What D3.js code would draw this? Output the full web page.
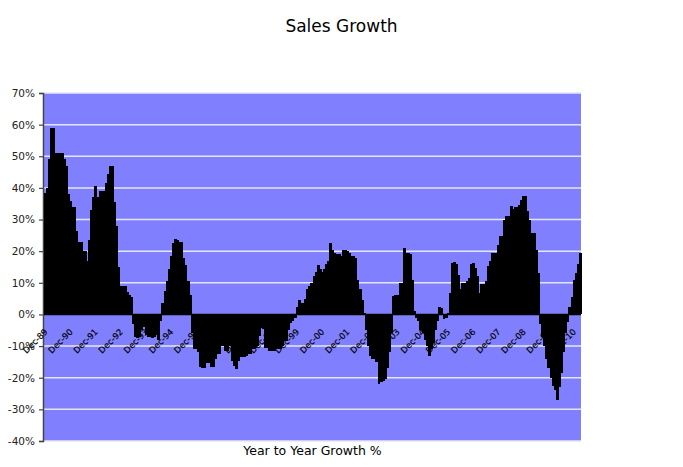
<!DOCTYPE html>
<html>
<head>
<meta charset="utf-8">
<script src="https://cdn.jsdelivr.net/npm/d3@7"></script>
<style>
  body { margin: 0; background: #fff; }
  text { font-family: "DejaVu Sans", sans-serif; }
</style>
</head>
<body>
<div class="chart"></div>
<script>
// monthly categories, Dec-89 .. Mar-11
var startMonth = new Date(Date.UTC(1989, 11, 1));
var endMonth = new Date(Date.UTC(2011, 3, 1));
var months = d3.utcMonth.range(startMonth, endMonth);

// year-to-year growth %, one row per 12 months starting Dec-89
var growth = [
    38.5, 40, 49, 59, 59, 51, 51, 51, 51, 49, 47, 38,
    36, 34, 34, 26.5, 23, 23, 20, 20, 17, 23.5, 33, 37,
    40.5, 37, 39, 39, 39, 41.5, 44.5, 47, 47, 35.5, 28, 15,
    9, 9, 9, 7, 6, 5.5, -3, -7, -7.5, -7, -5, -4,
    -6.5, -7, -7, -7.5, -7, -6.5, -8, -2, 3.5, 7.5, 10.5, 14.5,
    18.5, 22.5, 24, 23.5, 23, 23, 18, 15.5, 10.5, 6, -6, -11,
    -11, -12, -16.7, -17, -17, -15.2, -15.2, -16.7, -16.7, -14, -12.6, -12.6,
    -10, -10, -11.5, -11.5, -10, -14.6, -16.2, -17.2, -14.6, -13.6, -13.6, -13.6,
    -13, -12.6, -12.6, -11, -10.5, -10, -6.9, -4.3, -4.5, -10.5, -10.5, -11.5,
    -11.5, -11.5, -10.8, -10.8, -10.8, -10, -8.5, -8.5, -4.8, -2.8, -2, -1,
    2.5, 4.5, 3.5, 3.5, 5, 8, 9, 10, 12, 13.5, 15.5, 14.5,
    13.5, 14.5, 16, 17, 22.5, 20.5, 19.5, 19, 19, 18.5, 20.5, 20.5,
    20, 19.5, 18.5, 18.5, 18, 11, 8, 4.5, 0.5, -5, -10, -13,
    -14, -14, -15, -22, -21.5, -21, -20.5, -17, -12, -6, 5.8, 6,
    6, 10, 10, 21, 19.5, 19.5, 19, 11, 1, -1, -2, -5,
    -6, -8, -10, -13, -11, -9, -5, -2, 2.5, 2, -1.5, -1,
    0.5, 6.8, 16.3, 16.5, 16, 12.6, 7.9, 10, 10, 10.5, 11.6, 15.8,
    16.3, 14.7, 12, 6.8, 9.5, 9.5, 10.5, 15.3, 16.8, 19.5, 19.3, 19.3,
    22.1, 24.7, 24.7, 30, 31, 31, 34.4, 33.2, 34, 34, 34.7, 36.1,
    37.4, 37.4, 32.6, 30, 25.8, 25.8, 20.5, 13.2, -3, -7, -10, -14,
    -17, -20, -22.5, -24, -27, -23, -18.5, -12, -6, -2.5, 2.5, 5.5,
    11, 13, 15.8, 19.5
];

var tickLabels = ["Dec-89", "Dec-90", "Dec-91", "Dec-92", "Dec-93", "Dec-94",
    "Dec-95", "Dec-96", "Dec-97", "Dec-98", "Dec-99", "Dec-00", "Dec-01",
    "Dec-02", "Dec-03", "Dec-04", "Dec-05", "Dec-06", "Dec-07", "Dec-08",
    "Dec-09", "Dec-10"];

var yTicks = [-40, -30, -20, -10, 0, 10, 20, 30, 40, 50, 60, 70];

var width = 683, height = 467;
var plotLeft = 44, plotRight = 581, plotTop = 93, plotBottom = 441;

var fmtMonth = d3.utcFormat("%b-%y");

var svg = d3.select(".chart")
    .append("svg")
    .attr("width", width)
    .attr("height", height);

var x = d3.scaleBand()
    .domain(d3.range(months.length))
    .range([plotLeft, plotRight])
    .padding(0);

var y = d3.scaleLinear()
    .domain([-40, 70])
    .range([plotBottom, plotTop]);

// plot area
svg.append("rect")
    .attr("x", plotLeft)
    .attr("y", plotTop)
    .attr("width", plotRight - plotLeft)
    .attr("height", plotBottom - plotTop)
    .style("fill", "#8080ff");

// gridlines
svg.selectAll(".grid")
    .data(yTicks.filter(function(d) { return d != 0; }))
    .enter().append("line")
    .attr("class", "grid")
    .attr("x1", plotLeft)
    .attr("x2", plotRight)
    .attr("y1", function(d) { return y(d); })
    .attr("y2", function(d) { return y(d); })
    .style("stroke", "#e6e6f2")
    .style("stroke-width", 1.5);

// y axis
var yAxis = svg.append("g")
    .attr("transform", "translate(" + (plotLeft - 1) + ",0)")
    .call(d3.axisLeft(y).tickValues(yTicks).tickSize(4).tickPadding(4)
        .tickFormat(function(d) { return d + "%"; }));
yAxis.select(".domain").style("stroke", "#444").style("stroke-width", 1.5);
yAxis.selectAll(".tick line").style("stroke", "#444").style("stroke-width", 1.2);
yAxis.selectAll(".tick text")
    .style("font-family", "DejaVu Sans, sans-serif")
    .style("font-size", "10.5px")
    .style("fill", "#222");

// category labels (drawn under the bars)
var labelIdx = months.map(function(m, i) { return i; })
    .filter(function(i) { return tickLabels.indexOf(fmtMonth(months[i])) >= 0; });

svg.selectAll(".cat")
    .data(labelIdx)
    .enter().append("text")
    .attr("class", "cat")
    .attr("transform", function(i) {
        return "translate(" + (x(i) + x.bandwidth() / 2 + 3) + "," + (y(0) + 18) + ") rotate(-45)";
    })
    .attr("text-anchor", "end")
    .style("font-size", "8.5px")
    .style("fill", "#000")
    .style("stroke", "#000")
    .style("stroke-width", 0.2)
    .text(function(i) { return fmtMonth(months[i]); });

// bars
svg.selectAll(".bar")
    .data(growth)
    .enter().append("rect")
    .attr("class", "bar")
    .attr("x", function(d, i) { return x(i); })
    .attr("width", x.bandwidth() + 0.8)
    .attr("y", function(d) { return d >= 0 ? y(d) : y(0); })
    .attr("height", function(d) { return Math.abs(y(d) - y(0)); })
    .attr("shape-rendering", "crispEdges")
    .style("fill", "#000");

// zero axis
svg.append("line")
    .attr("x1", plotLeft)
    .attr("x2", plotRight)
    .attr("y1", y(0))
    .attr("y2", y(0))
    .style("stroke", "#000")
    .style("stroke-width", 1.5);

// titles
svg.append("text")
    .attr("x", width / 2)
    .attr("y", 32)
    .attr("text-anchor", "middle")
    .style("font-size", "17px")
    .text("Sales Growth");

svg.append("text")
    .attr("x", (plotLeft + plotRight) / 2)
    .attr("y", 455)
    .attr("text-anchor", "middle")
    .style("font-size", "12.5px")
    .text("Year to Year Growth %");
</script>
</body>
</html>
